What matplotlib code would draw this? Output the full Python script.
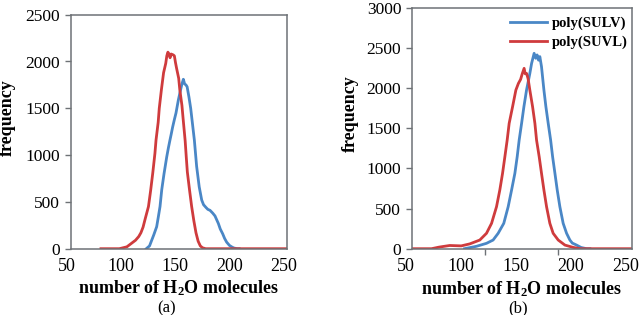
import matplotlib
matplotlib.use("Agg")
import matplotlib.pyplot as plt
import matplotlib.transforms as mtransforms

plt.rcParams['font.family'] = ['Liberation Serif', 'DejaVu Serif']
plt.rcParams['mathtext.fontset'] = 'custom'
plt.rcParams['mathtext.rm'] = 'Liberation Serif:bold'
plt.rcParams['mathtext.bf'] = 'Liberation Serif:bold'

# ---------------- data ----------------
# panel (a)
a_sulv_x = [120, 123, 125, 127, 129.6, 131, 132.7, 134.3, 136.4, 138.9, 140.5, 141.9, 143, 144.4, 146,
            147.5, 149.7, 151.8, 153, 154.3, 155.5, 156.7, 157.8, 159.5, 161.1, 162.8, 164.5, 166.6,
            169, 171.3, 173, 175.3, 177, 179, 181.5, 183.6, 186.7, 188.5, 190.7, 192.5, 194.4, 197,
            199, 201, 204, 206]
a_sulv_y = [0, 30, 90, 150, 235, 330, 450, 630, 800, 980, 1080, 1160, 1220, 1300, 1380,
            1450, 1590, 1700, 1760, 1810, 1760, 1750, 1730, 1620, 1500, 1330, 1160, 880,
            660, 520, 470, 440, 420, 410, 380, 350, 270, 210, 160, 110, 70, 35,
            20, 8, 0, 0]
a_suvl_x = [78, 95, 102, 106, 110, 113, 115, 117, 119, 122, 124, 126, 128, 129, 131, 132, 134, 136,
            138, 139, 140, 141, 142, 143, 144, 145, 146, 147, 148, 150, 151, 153, 154, 156, 157,
            158, 160, 162, 164, 166, 168, 170, 172, 175, 250]
a_suvl_y = [0, 0, 20, 55, 90, 130, 170, 230, 320, 450, 620, 810, 1020, 1160, 1350, 1500, 1700, 1880,
            1980, 2060, 2100, 2080, 2040, 2080, 2075, 2070, 2060, 1990, 1930, 1820, 1700, 1530, 1400,
            1150, 980, 820, 630, 450, 300, 170, 80, 30, 10, 0, 0]

# panel (b)
b_sulv_x = [98, 108.9, 118, 124, 128.6, 133.7, 137.7, 140.8, 143.8, 145.9, 147.7, 149.9, 152, 154.4,
            157.4, 159, 161.3, 162.8, 164, 165.3, 166.5, 168, 170.2, 172, 174.1, 176.3, 178.1,
            180.2, 182.3, 184.7, 187.7, 190.8, 193.8, 196, 199.9, 204, 209, 212]
b_sulv_y = [0, 30, 67, 108, 192, 316, 523, 731, 940, 1146, 1354, 1562, 1769, 1977,
            2185, 2310, 2435, 2373, 2415, 2350, 2394, 2269, 1977, 1769, 1562, 1354, 1146,
            940, 731, 523, 316, 192, 108, 70, 45, 15, 0, 0]
b_suvl_x = [50, 68, 75, 84.6, 95, 102.8, 111.9, 118, 122.6, 127.1, 130.1, 132.6, 134.7, 136.8,
            138.6, 141.7, 144.7, 147, 149, 150.5, 152.2, 153.2, 154.4, 155.8, 157.4, 159.9, 162,
            163.5, 165.9, 168, 170.2, 172.6, 175.6, 178.6, 183.2, 189.3, 196.8, 203, 250]
b_suvl_y = [0, 0, 20, 40, 35, 60, 108, 192, 316, 523, 731, 940, 1146, 1354,
            1562, 1769, 1977, 2060, 2110, 2180, 2248, 2180, 2185, 2120, 1977, 1769, 1562,
            1354, 1146, 940, 731, 523, 316, 192, 108, 45, 16, 0, 0]

labels = ['poly(SULV)', 'poly(SUVL)']
colors = ['#4a87c6', '#cf3b3d']
panel_tags = ['(a)', '(b)']
xticks = [50, 100, 150, 200, 250]
yticks_a = [0, 500, 1000, 1500, 2000, 2500]
yticks_b = [0, 500, 1000, 1500, 2000, 2500, 3000]

# ---------------- figure ----------------
fig = plt.figure(figsize=(6.4, 3.15), dpi=100)
W, H = 640, 315
axA = fig.add_axes([70.7 / W, 1 - 248.7 / H, 216 / W, 234 / H])
axB = fig.add_axes([411.7 / W, 1 - 248.7 / H, 220 / W, 240.7 / H])

spine_col = '#6e7276'
lw = 2.0

def style(ax, yticks, ymax, minor_x, shift_px, ylab_x):
    ax.set_xlim(50, 250)
    ax.set_ylim(0, ymax)
    ax.set_yticks(yticks)
    ax.set_xticks(xticks)
    ax.set_xticks(minor_x, minor=True)
    for s in ax.spines.values():
        s.set_color(spine_col)
        s.set_linewidth(1.1)
    ax.tick_params(axis='x', which='major', length=0, pad=7, labelsize=13)
    ax.tick_params(axis='x', which='minor', length=4, width=1.0, color=spine_col, direction='out')
    ax.tick_params(axis='y', which='major', length=4, width=1.0, color=spine_col,
                   direction='out', pad=3.5, labelsize=12.5)
    off = mtransforms.ScaledTranslation(-shift_px / 100, 0, fig.dpi_scale_trans)
    for lab in ax.get_xticklabels():
        lab.set_transform(lab.get_transform() + off)
    ax.set_xlabel(r'number of $\mathbf{H_2O}$ molecules', fontsize=13, fontweight='bold')
    ax.set_ylabel('frequency', fontsize=13, fontweight='bold')
    ax.xaxis.set_label_coords(0.5, -0.128)
    ax.yaxis.set_label_coords(ylab_x, 0.56)

axA.plot(a_sulv_x, a_sulv_y, color=colors[0], lw=lw, label=labels[0])
axA.plot(a_suvl_x, a_suvl_y, color=colors[1], lw=lw, label=labels[1])
style(axA, yticks_a, 2500, [50, 100, 150, 200, 250], 3.5, -0.253)

axB.plot(b_sulv_x, b_sulv_y, color=colors[0], lw=lw, label=labels[0])
axB.plot(b_suvl_x, b_suvl_y, color=colors[1], lw=lw, label=labels[1])
style(axB, yticks_b, 3000, [50, 50 + 200 / 3, 50 + 400 / 3, 250], 6, -0.238)

axB.legend(loc='upper right', bbox_to_anchor=(628 / W, 1 - 17 / H), bbox_transform=fig.transFigure,
           frameon=False, borderpad=0, borderaxespad=0, handlelength=2.55, handletextpad=0.35,
           labelspacing=0.35, prop={'weight': 'bold', 'size': 10.5})

fig.text(166.7 / W, 1 - 308.5 / H, panel_tags[0], ha='center', va='center', fontsize=12)
fig.text(518.3 / W, 1 - 308.5 / H, panel_tags[1], ha='center', va='center', fontsize=12)

fig.savefig('out.png', dpi=100)
